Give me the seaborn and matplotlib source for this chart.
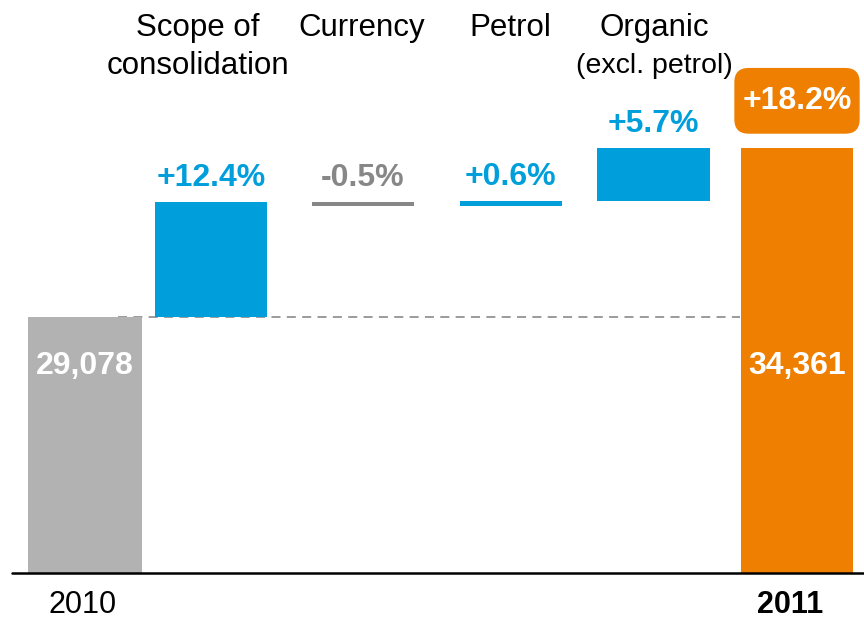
import numpy as np
import pandas as pd
import matplotlib.pyplot as plt
import matplotlib.transforms as mtransforms
from matplotlib.patches import BoxStyle
import seaborn as sns

# --- data ---
years = ['2010', '2011']
sales_2010 = 29078
sales_2011 = 34361
step_names = ['Scope of', 'Currency', 'Petrol', 'Organic']
step_sub = ['consolidation', '', '', '(excl. petrol)']
pct_change = [12.4, -0.5, 0.6, 5.7]
pct_total = 18.2

# --- colours ---
grey_bar = '#b2b2b2'
blue = '#009fdb'
dark_grey = '#878787'
orange = '#ef7f00'
step_colors = [blue, dark_grey, blue, blue]

# --- layout (slot positions, not data) ---
x_pos = [0, 0.885, 1.952, 2.991, 3.992, 5.0]
bar_w = [0.80, 0.787, 0.716, 0.716, 0.794, 0.787]
head_x = [0.79, 1.94, 2.99, 4.0]
y_floor = 21085          # value sitting on the black base line (axis is cut)
y_lim = (19510, 38990)

# waterfall pieces
deltas = [sales_2010 * p / 100 for p in pct_change]
starts = list(sales_2010 + np.concatenate([[0], np.cumsum(deltas)[:-1]]))

df = pd.DataFrame({
    'pos': x_pos,
    'height': [sales_2010 - y_floor] + deltas + [sales_2011 - y_floor],
    'bottom': [y_floor] + starts + [y_floor],
    'color': [grey_bar] + step_colors + [orange],
})

sns.set_style('white')
plt.rcParams['font.family'] = ['Liberation Sans', 'DejaVu Sans']
plt.rcParams['text.color'] = 'black'


def badge_box(x0, y0, width, height, mutation_size):
    # rounded box with more room above/below than at the sides
    px, py = 0.25 * mutation_size, 0.56 * mutation_size
    return BoxStyle.Round(pad=0, rounding_size=0.45)(
        x0 - px, y0 - py, width + 2 * px, height + 2 * py, mutation_size)


fig = plt.figure(figsize=(8.64, 6.23), dpi=100)
ax = fig.add_axes([0, 0, 1, 1])

# dashed reference line at the 2010 level
ax.hlines(sales_2010, 0.23, 4.6, colors='#939393', linestyles=(0, (5, 3.5)),
          linewidth=1.3, zorder=1)

sns.barplot(data=df, x='pos', y='height', native_scale=True, errorbar=None,
            bottom=df['bottom'].values, color=grey_bar, linewidth=0,
            zorder=2, ax=ax)

for patch, c, xc, w in zip(ax.patches, df['color'], x_pos, bar_w):
    patch.set_facecolor(c)
    patch.set_edgecolor(c)
    patch.set_width(w)
    patch.set_x(xc - w / 2)

# base line
ax.axhline(y_floor, xmin=12 / 864, xmax=1, color='black', linewidth=1.8, zorder=3)

# step percentage labels
for i, p in enumerate(pct_change):
    top = max(starts[i], starts[i] + deltas[i])
    ax.annotate(f'{p:+.1f}%', (x_pos[i + 1], top), xytext=(0, 11),
                textcoords='offset points', ha='center', va='baseline',
                fontsize=23, fontweight='bold', color=step_colors[i])

# total change badge
ax.annotate(f'+{pct_total:.1f}%', (x_pos[-1], sales_2011), xytext=(0, 34),
            textcoords='offset points', ha='center', va='center',
            fontsize=23, fontweight='bold', color='white',
            bbox=dict(boxstyle=badge_box, fc=orange, ec='none'))

trans = mtransforms.blended_transform_factory(ax.transData, ax.transAxes)

# values inside the total bars
for xc, v in zip([x_pos[0], x_pos[-1]], [sales_2010, sales_2011]):
    ax.text(xc, 0.413, f'{v:,}', transform=trans, ha='center', va='center',
            fontsize=23, fontweight='bold', color='white')

# category headers
for xc, name, sub in zip(head_x, step_names, step_sub):
    ax.text(xc, 0.955, name, transform=trans, ha='center', va='center', fontsize=22.5)
    if sub:
        size = 22.5 if sub == 'consolidation' else 20.5
        ax.text(xc, 0.894, sub, transform=trans, ha='center', va='center', fontsize=size)

# year labels
ax.text(x_pos[0] - 0.02, 0.029, years[0], transform=trans, ha='center', va='center',
        fontsize=22)
ax.text(x_pos[-1] - 0.05, 0.029, years[1], transform=trans, ha='center', va='center',
        fontsize=22, fontweight='bold')

ax.set_xlim(-85 / 142.4, (864 - 85) / 142.4)
ax.set_ylim(*y_lim)
ax.set_axis_off()

fig.savefig('out.png', dpi=100)
